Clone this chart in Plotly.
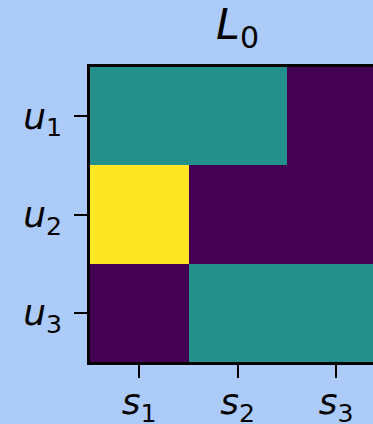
import plotly.graph_objects as go

# Loss matrix L_0: rows are users, columns are items
users = ["<i>u</i><sub>1</sub>", "<i>u</i><sub>2</sub>", "<i>u</i><sub>3</sub>"]
items = ["<i>s</i><sub>1</sub>", "<i>s</i><sub>2</sub>", "<i>s</i><sub>3</sub>"]
values = [
    [0.5, 0.5, 0.0],
    [1.0, 0.0, 0.0],
    [0.0, 0.5, 0.5],
]
title = "<i>L</i><sub>0</sub>"

bg = "#adcbf8"
font = "DejaVu Sans"

fig = go.Figure(
    go.Heatmap(
        z=values,
        x=[0, 1, 2],
        y=[0, 1, 2],
        colorscale="Viridis",
        zmin=0,
        zmax=1,
        showscale=False,
        hoverinfo="skip",
    )
)

axis_style = dict(
    tickvals=[0, 1, 2],
    ticks="outside",
    ticklen=13,
    tickwidth=2,
    tickcolor="black",
    showline=True,
    linecolor="black",
    linewidth=2.5,
    showgrid=False,
    zeroline=False,
    automargin=False,
    tickfont=dict(family=font, size=36, color="black"),
)

fig.update_xaxes(
    range=[-0.5, 2.373],
    ticktext=items,
    ticklabelstandoff=-7,
    mirror=True,
    **axis_style,
)
fig.update_yaxes(
    range=[2.5, -0.5],
    ticktext=users,
    ticklabelstandoff=5,
    mirror=False,
    **axis_style,
)

fig.add_annotation(
    text=title,
    x=1,
    xref="x",
    y=1,
    yref="paper",
    yanchor="bottom",
    yshift=10,
    showarrow=False,
    font=dict(family=font, size=43, color="black"),
)

fig.update_layout(
    width=373,
    height=424,
    margin=dict(l=90, r=0, t=67, b=62),
    paper_bgcolor=bg,
    plot_bgcolor=bg,
)

fig.write_html("out.html")
